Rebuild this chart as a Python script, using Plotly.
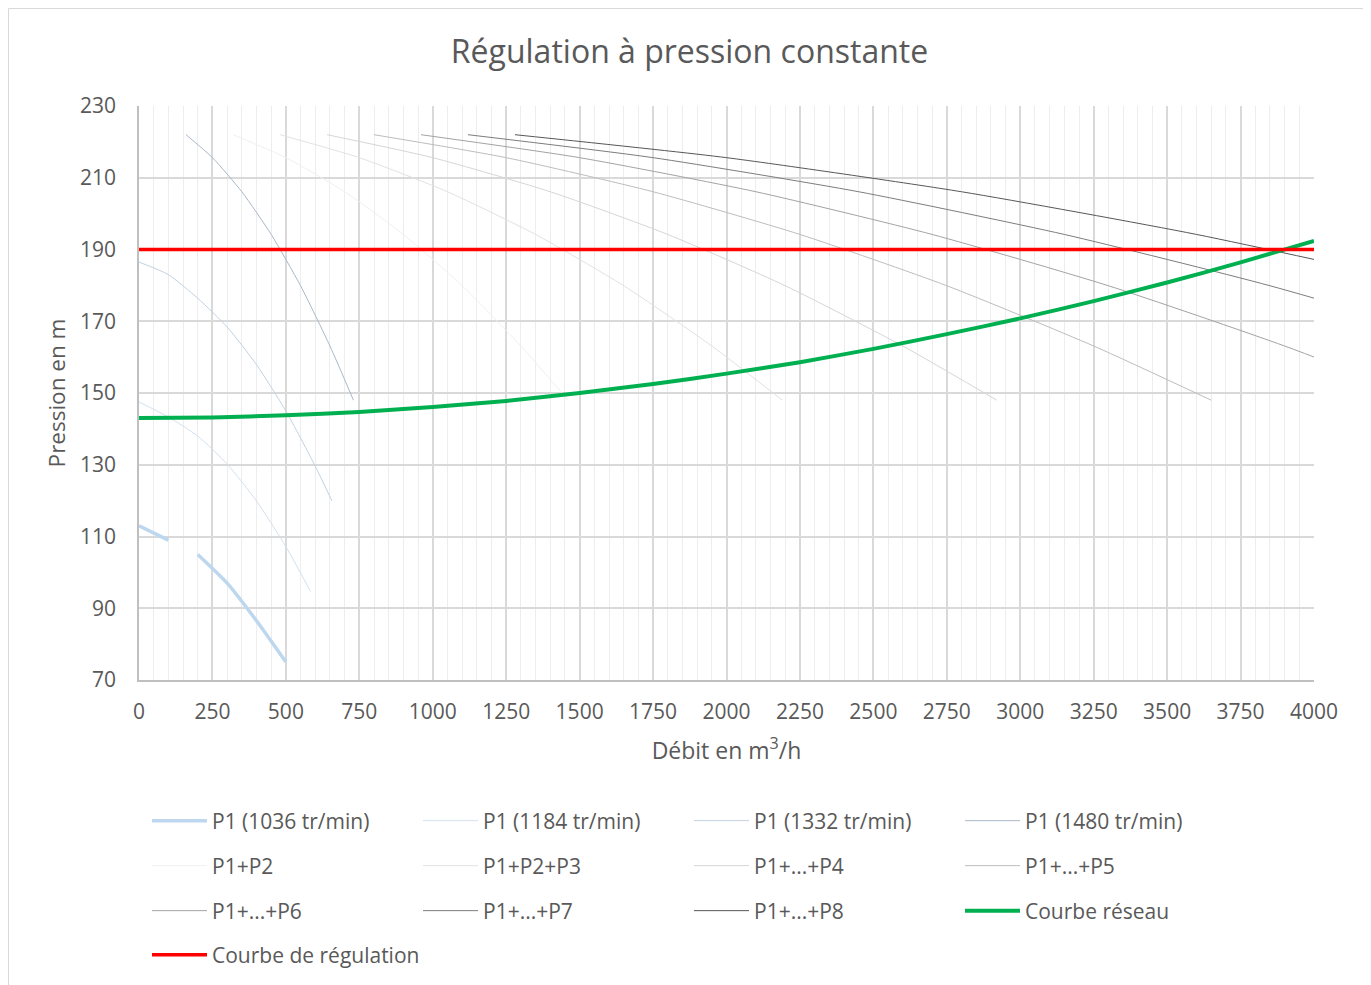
import plotly.graph_objects as go

# ---- data ----
q_1036 = [0, 100, None, 200, 300, 400, 500]
h_1036 = [113, 109, None, 105, 97, 86.5, 75]

q_1184 = [0, 100, 200, 300, 400, 500, 584]
h_1184 = [147.5, 143.3, 138.0, 130.2, 119.9, 107.2, 94.7]

q_1332 = [0, 100, 200, 300, 400, 500, 600, 657]
h_1332 = [186.5, 183.0, 176.4, 168.4, 157.9, 145.0, 129.6, 119.9]

q_1480 = [160, 250, 350, 450, 550, 650, 730]
h_1480 = [222, 215.6, 206.1, 194.2, 179.9, 163.1, 148]

# parallel-pump combinations (same heads as P1 1480 tr/min)
h_comb = [222, 215.6, 206.1, 194.2, 179.9, 163.1, 148]
q_p2 = [320, 500, 700, 900, 1100, 1300, 1460]
q_p3 = [480, 750, 1050, 1350, 1650, 1950, 2190]
q_p4 = [640, 1000, 1400, 1800, 2200, 2600, 2920]
q_p5 = [800, 1250, 1750, 2250, 2750, 3250, 3650]
q_p6 = [960, 1500, 2100, 2700, 3300, 3900, 4380]
q_p7 = [1120, 1750, 2450, 3150, 3850, 4550, 5110]
q_p8 = [1280, 2000, 2800, 3600, 4400, 5200, 5840]

q_reseau = [0, 250, 500, 750, 1000, 1250, 1500, 1750, 2000, 2250, 2500,
            2750, 3000, 3250, 3500, 3750, 4000]
h_reseau = [143.0, 143.2, 143.8, 144.7, 146.1, 147.8, 150.0, 152.5, 155.4,
            158.6, 162.3, 166.4, 170.8, 175.6, 180.8, 186.4, 192.4]

q_regul = [0, 4000]
h_regul = [190, 190]

x_ticks = list(range(0, 4001, 250))
y_ticks = list(range(70, 231, 20))

FONT = "Open Sans"
TXT = "#595959"

fig = go.Figure()

def add(name, x, y, color, width, legend):
    fig.add_trace(go.Scatter(
        x=x, y=y, name=name, mode="lines",
        line=dict(color=color, width=width, shape="spline", smoothing=0.6),
        legend=legend, connectgaps=False, hoverinfo="skip"))

add("P1 (1036 tr/min)", q_1036, h_1036, "#bdd7ee", 3.5, "legend")
add("P1 (1184 tr/min)", q_1184, h_1184, "#d3e1ee", 1, "legend")
add("P1 (1332 tr/min)", q_1332, h_1332, "#c2d2e2", 1, "legend")
add("P1 (1480 tr/min)", q_1480, h_1480, "#a9b8c9", 1, "legend")
add("P1+P2", q_p2, h_comb, "#f0f0f0", 1, "legend2")
add("P1+P2+P3", q_p3, h_comb, "#e2e2e2", 1, "legend2")
add("P1+...+P4", q_p4, h_comb, "#d6d6d6", 1, "legend2")
add("P1+...+P5", q_p5, h_comb, "#bdbdbd", 1, "legend2")
add("P1+...+P6", q_p6, h_comb, "#a3a3a3", 1, "legend3")
add("P1+...+P7", q_p7, h_comb, "#7d7d7d", 1, "legend3")
add("P1+...+P8", q_p8, h_comb, "#575757", 1, "legend3")
add("Courbe réseau", q_reseau, h_reseau, "#00b050", 4, "legend3")
add("Courbe de régulation", q_regul, h_regul, "#ff0000", 3.5, "legend4")

# page is rendered with an 8px body margin: figure coords = page coords - 8
OFF = 8
W, H = 1363, 977
L = 139 - OFF
T = 106 - OFF
R = W - (1314 - OFF)
B = H - (680 - OFF)
ph = H - T - B
pw = W - L - R

def row_y(py):
    return (680 - py) / ph

leg_x = 8 / pw
leg_common = dict(orientation="h", xanchor="left", yanchor="middle",
                  x=leg_x, font=dict(family=FONT, size=21, color=TXT),
                  itemwidth=55, bgcolor="rgba(0,0,0,0)",
                  traceorder="normal", itemclick=False)

fig.update_layout(
    width=W, height=H,
    margin=dict(l=L, r=R, t=T, b=B, autoexpand=False),
    paper_bgcolor="white", plot_bgcolor="white",
    font=dict(family=FONT, color=TXT),
    title=dict(text="Régulation à pression constante", x=0.5, xref="container",
               xanchor="center", y=1 - (52 - OFF) / H, yanchor="middle",
               font=dict(family=FONT, size=32, color=TXT)),
    legend=dict(**leg_common, entrywidth=201, y=row_y(821)),
    legend2=dict(**leg_common, entrywidth=201, y=row_y(866)),
    legend3=dict(**leg_common, entrywidth=201, y=row_y(911)),
    legend4=dict(**leg_common, entrywidth=320, y=row_y(955)),
    xaxis=dict(range=[0, 4000], tickvals=x_ticks, showgrid=True,
               automargin=False,
               gridcolor="#d9d9d9", gridwidth=1.5,
               minor=dict(dtick=50, tick0=0, showgrid=True,
                          gridcolor="#ededed", gridwidth=1),
               showline=True, linecolor="#bfbfbf", linewidth=1.5,
               zeroline=False, ticks="", ticklabelstandoff=12,
               tickfont=dict(family=FONT, size=21, color=TXT),
               title=dict(text="Débit en m<sup>3</sup>/h", standoff=19,
                          font=dict(family=FONT, size=23, color=TXT))),
    yaxis=dict(range=[70, 230], tickvals=y_ticks, showgrid=True,
               automargin=False,
               gridcolor="#d9d9d9", gridwidth=1.5,
               showline=True, linecolor="#bfbfbf", linewidth=1.5,
               zeroline=False, ticks="", ticklabelstandoff=17,
               tickfont=dict(family=FONT, size=21, color=TXT),
               title=dict(text="Pression en m", standoff=8,
                          font=dict(family=FONT, size=22.5, color=TXT))),
)

# chart-area border (bottom edge lies below the visible page)
fig.add_shape(type="rect", xref="paper", yref="paper",
              x0=(OFF + 0.5 - 139) / pw, x1=(1366 - 139) / pw,
              y0=(680 - 995) / ph, y1=(680 - OFF - 0.5) / ph,
              line=dict(color="#d9d9d9", width=1), layer="below")

fig.write_html("out.html")
